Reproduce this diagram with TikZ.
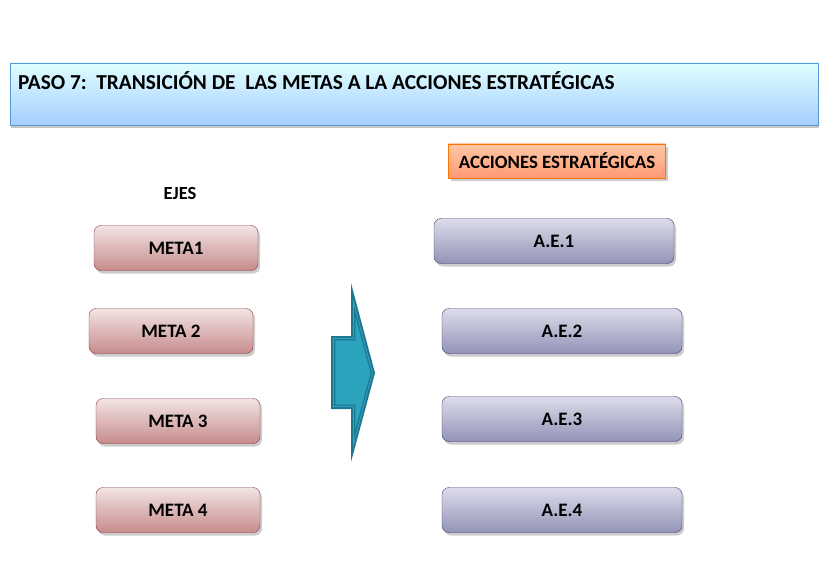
\documentclass[tikz,border=0pt]{standalone}
\usepackage{fontspec}
\setmainfont{Carlito}
\usetikzlibrary{shadows,positioning}
\definecolor{metaborde}{rgb}{0.55,0.22,0.28}
\definecolor{accborde}{rgb}{0.23,0.23,0.44}
\definecolor{flechacolor}{rgb}{0.17,0.64,0.74}
\definecolor{flechaborde}{rgb}{0.11,0.47,0.56}
\tikzset{
	titulo/.style={
		rectangle,
		draw=cyan!60!blue!70,
		top color=cyan!12,
		bottom color=cyan!45!blue!35,
		minimum width=808pt,
		minimum height=62pt,
		drop shadow={opacity=0.45,shadow xshift=1pt,shadow yshift=-3pt}
	},
	meta/.style={
		rectangle,
		rounded corners=7pt,
		draw=metaborde,
		top color=red!6!white!95!black,
		bottom color=red!30!white!78!black,
		minimum width=164pt,
		minimum height=45pt,
		font=\fontsize{19}{21}\selectfont\bfseries,
		drop shadow={opacity=0.4,shadow xshift=2pt,shadow yshift=-3pt}
	},
	accion/.style={
		rectangle,
		rounded corners=7pt,
		draw=accborde,
		top color=blue!6!white!92!black,
		bottom color=blue!20!white!72!black,
		minimum width=240pt,
		minimum height=45pt,
		font=\fontsize{19}{21}\selectfont\bfseries,
		drop shadow={opacity=0.4,shadow xshift=2pt,shadow yshift=-3pt}
	},
	cabecera/.style={
		rectangle,
		draw=orange!90!red,
		top color=red!25!orange!35,
		bottom color=red!45!orange!55,
		minimum width=217pt,
		minimum height=34pt,
		font=\fontsize{18.8}{21}\selectfont\bfseries,
		drop shadow={opacity=0.4,shadow xshift=2pt,shadow yshift=-3pt}
	},
}

\begin{document}
\begin{tikzpicture}[x=1pt,y=-1pt,node distance=89pt,on grid]
	\useasboundingbox (0,0) rectangle (824,564);
	% encabezado
	\node[titulo] (paso) at (414,94) {};
	\node[anchor=north west,font=\fontsize{21.3}{24}\selectfont\bfseries,inner sep=0pt]
		(pasotexto) at ([xshift=8pt,yshift=-9pt]paso.north west)
		{PASO 7:\ \ TRANSICIÓN DE\ \ LAS METAS\ A LA ACCIONES ESTRATÉGICAS};
	
	% columna izquierda
	\node[font=\fontsize{18.5}{20}\selectfont\bfseries] (ejes) at (180,193) {EJES};
	\node[meta] (meta1) at (176,248) {META1};
	\node[meta] (meta2) at (171,331) {META 2};
	\node[meta] (meta3) at (178,421) {META 3};
	\node[meta] (meta4) [below=of meta3,yshift=0pt] {META 4};
	
	% columna derecha
	\node[cabecera] (acciones) at (557,161) {ACCIONES ESTRATÉGICAS};
	\node[accion] (ae1) at (554,241) {A.E.1};
	\node[accion] (ae2) at (562,331) {A.E.2};
	\node[accion] (ae3) [below=of ae2,yshift=1pt] {A.E.3};
	\node[accion] (ae4) [below=of ae3,yshift=-2pt] {A.E.4};
	
	% flecha
	\fill[flechaborde]
		(331,336) -- (351,336) -- (351,283) -- (375,373) -- (351,462)
		-- (351,409) -- (331,409) -- cycle;
	\draw[draw=cyan!40!flechacolor,line width=0.8pt]
		(333.5,338.5) -- (353.5,338.5) -- (353.5,302) -- (372.4,373) -- (353.5,444)
		-- (353.5,406.5) -- (333.5,406.5) -- cycle;
	\draw[draw=flechaborde,fill=flechacolor,line width=0.6pt]
		(335,340) -- (355,340) -- (355,313.5) -- (370.9,373) -- (355,432.5)
		-- (355,405) -- (335,405) -- cycle;
\end{tikzpicture}
\end{document}
